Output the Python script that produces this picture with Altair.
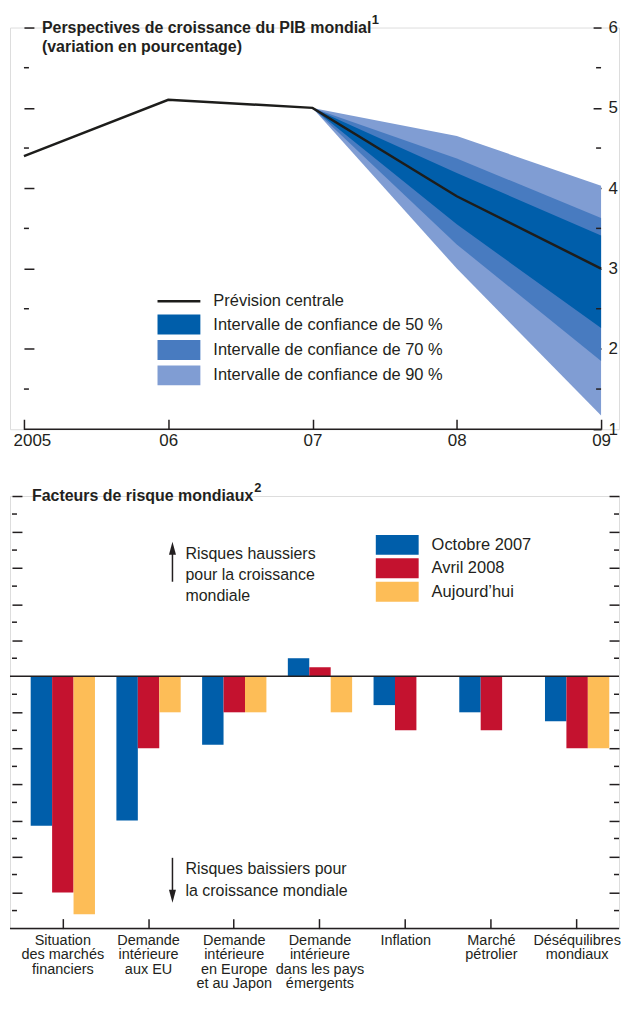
import altair as alt
import pandas as pd

FONT = "'Liberation Sans Narrow', 'Liberation Sans', Arial, sans-serif"
TXT = "#231f20"

# ---------------- Top chart data ----------------
years = [2005, 2006, 2007, 2008, 2009]
year_labels = ["2005", "06", "07", "08", "09"]
central = [4.4, 5.1, 5.0, 3.9, 3.0]

fan_years = [2007, 2008, 2009]
hi90 = [5.0, 4.65, 4.03]
hi70 = [5.0, 4.37, 3.63]
hi50 = [5.0, 4.19, 3.41]
lo50 = [5.0, 3.55, 2.26]
lo70 = [5.0, 3.30, 1.85]
lo90 = [5.0, 3.00, 1.17]

legend_top = ["Prévision centrale",
              "Intervalle de confiance de 50 %",
              "Intervalle de confiance de 70 %",
              "Intervalle de confiance de 90 %"]
colors_top = ["#1d1d1b", "#005eaa", "#487bc0", "#809dd3"]

y_major_top = [1, 2, 3, 4, 5, 6]
y_left_major_top = [2, 3, 4, 5, 6]
y_minor_top = [1.5, 2.5, 3.5, 4.5, 5.5]
title_top_1 = "Perspectives de croissance du PIB mondial"
title_top_2 = "(variation en pourcentage)"
note_top = "1"

# ---------------- Bottom chart data ----------------
categories = ["Situation|des marchés|financiers",
              "Demande|intérieure|aux EU",
              "Demande|intérieure|en Europe|et au Japon",
              "Demande|intérieure|dans les pays|émergents",
              "Inflation",
              "Marché|pétrolier",
              "Déséquilibres|mondiaux"]
series = ["Octobre 2007", "Avril 2008", "Aujourd’hui"]
oct2007 = [-8.3, -8.0, -3.8, 1.0, -1.6, -2.0, -2.5]
avr2008 = [-12.0, -4.0, -2.0, 0.5, -3.0, -3.0, -4.0]
today = [-13.2, -2.0, -2.0, -2.0, 0.0, 0.0, -4.0]
colors_bottom = ["#005eaa", "#c4122f", "#fdbd57"]
y_domain_bottom = [-14, 10]
y_major_bottom = [-12, -10, -8, -6, -4, -2, 2, 4, 6, 8, 10]
y_minor_bottom = [-13, -11, -9, -7, -5, -3, -1, 1, 3, 5, 7, 9]
title_bottom = "Facteurs de risque mondiaux"
note_bottom = "2"
up_text = ["Risques haussiers", "pour la croissance", "mondiale"]
down_text = ["Risques baissiers pour", "la croissance mondiale"]

dummy = pd.DataFrame({"d": [0]})

# ================= TOP CHART =================
W = 611
H_TOP = 403
PX_YR = 144.75
xs = alt.Scale(domain=[2005 - 14 / PX_YR, 2009 + 18 / PX_YR], nice=False, zero=False)
ys = alt.Scale(domain=[1, 6], nice=False, zero=False)
fill_scale = alt.Scale(domain=legend_top, range=colors_top)

label_expr = " : ".join(
    [f"datum.value == {y} ? '{l}'" for y, l in zip(years, year_labels)] + ["''"]
)
x_ax = alt.Axis(values=years, labelExpr=label_expr, offset=-10, tickSize=10,
                domain=False, grid=False, title=None, labelFontSize=17,
                labelFont=FONT, labelColor=TXT, labelPadding=3,
                tickColor=TXT, tickWidth=1.5,
                labelOffset={"condition": {"test": "datum.value == 2005", "value": 8}, "value": 0})
left_ax_top = alt.Axis(orient="left", values=y_left_major_top, offset=-24, tickSize=10,
                       labels=False, domain=False, grid=False, title=None,
                       tickColor=TXT, tickWidth=1.5)
right_ax_top = alt.Axis(orient="right", values=y_major_top, offset=-26, tickSize=8,
                        domain=False, grid=False, title=None, labelFontSize=17,
                        labelFont=FONT, labelColor=TXT, labelPadding=7,
                        tickColor=TXT, tickWidth=1.5)

sym_expr = ("datum.value == '" + legend_top[0] + "' ? 'M-1.72,-0.1h3.44v0.2h-3.44z' : "
            "'M-1.72,-0.8h3.44v1.6h-3.44z'")
leg_top = alt.Legend(title=None, orient="none", legendX=157, legendY=262,
                     symbolType={"expr": sym_expr}, symbolSize=625,
                     symbolStrokeWidth=0, labelFont=FONT, labelFontSize=16.5,
                     labelColor=TXT, labelOffset=22, rowPadding=2.5, padding=0,
                     labelLimit=400)


def band(lo, hi, name, axis):
    df = pd.DataFrame({"year": fan_years, "lo": lo, "hi": hi, "band": name})
    return alt.Chart(df).mark_area(opacity=1).encode(
        x=alt.X("year:Q", scale=xs, axis=x_ax),
        y=alt.Y("lo:Q", scale=ys, axis=axis),
        y2="hi:Q",
        fill=alt.Fill("band:N", scale=fill_scale, legend=leg_top),
    )


a90 = band(lo90, hi90, legend_top[3], left_ax_top)
a70 = band(lo70, hi70, legend_top[2], None)
a50 = band(lo50, hi50, legend_top[1], None)

line = alt.Chart(pd.DataFrame({"year": years, "v": central})).mark_line(
    color=colors_top[0], strokeWidth=2.5).encode(
    x=alt.X("year:Q", scale=xs, axis=x_ax),
    y=alt.Y("v:Q", scale=ys, axis=right_ax_top),
)

baseline_top = alt.Chart(dummy).mark_rule(color=TXT, strokeWidth=1.5).encode(
    x=alt.XDatum(years[0], scale=xs, axis=x_ax),
    x2=alt.X2Datum(years[-1]),
    y=alt.YDatum(y_major_top[0], scale=ys, axis=None),
)

minor_df_top = pd.DataFrame({"v": y_minor_top})
minor_left_top = alt.Chart(minor_df_top).mark_rule(color=TXT, strokeWidth=1.5).encode(
    y=alt.Y("v:Q", scale=ys, axis=None), x=alt.value(14), x2=alt.value(19))
minor_right_top = alt.Chart(minor_df_top).mark_rule(color=TXT, strokeWidth=1.5).encode(
    y=alt.Y("v:Q", scale=ys, axis=None), x=alt.value(588), x2=alt.value(593))

title_t1 = alt.Chart(dummy).mark_text(
    text=title_top_1, align="left", baseline="middle", font=FONT, fontSize=16,
    fontWeight="bold", color=TXT).encode(x=alt.value(32), y=alt.value(0))
title_t2 = alt.Chart(dummy).mark_text(
    text=title_top_2, align="left", baseline="middle", font=FONT, fontSize=16,
    fontWeight="bold", color=TXT).encode(x=alt.value(32), y=alt.value(20))
note_t = alt.Chart(dummy).mark_text(
    text=note_top, align="left", baseline="middle", font=FONT, fontSize=13,
    fontWeight="bold", color=TXT).encode(x=alt.value(363), y=alt.value(-8))

top = alt.layer(a90, a70, a50, line, baseline_top, minor_left_top, minor_right_top,
                title_t1, title_t2, note_t).resolve_axis(y="independent").properties(
    width=W, height=H_TOP)

# ================= BOTTOM CHART =================
H_BOT = 434
ys_b = alt.Scale(domain=y_domain_bottom, nice=False, zero=False)

rows = []
for i, c in enumerate(categories):
    for s, vals in zip(series, [oct2007, avr2008, today]):
        rows.append({"cat": c, "series": s, "value": vals[i]})
bars_df = pd.DataFrame(rows)

x_ax_b = alt.Axis(offset=-10, tickSize=10, domain=False, grid=False, title=None,
                  labelAngle=0, labelExpr="split(datum.label, '|')",
                  labelFont=FONT, labelFontSize=14.5, labelColor=TXT,
                  labelLineHeight=14.5, labelPadding=5, labelBaseline="top",
                  tickColor=TXT, tickWidth=1.5, labelLimit=200)
left_ax_b = alt.Axis(orient="left", values=y_major_bottom, offset=-12, tickSize=10,
                     labels=False, domain=False, grid=False, title=None,
                     tickColor=TXT, tickWidth=1.5)
right_ax_b = alt.Axis(orient="right", values=y_major_bottom, offset=-10, tickSize=10,
                      labels=False, domain=False, grid=False, title=None,
                      tickColor=TXT, tickWidth=1.5)
leg_b = alt.Legend(title=None, orient="none", legendX=376, legendY=506.5,
                   symbolType="M-1.72,-0.8h3.44v1.6h-3.44z", symbolSize=625,
                   symbolStrokeWidth=0, labelFont=FONT, labelFontSize=16.5,
                   labelColor=TXT, labelOffset=22, rowPadding=0.5, padding=0,
                   labelLimit=300)

bars = alt.Chart(bars_df).mark_bar().encode(
    x=alt.X("cat:N", sort=categories, axis=x_ax_b,
            scale=alt.Scale(paddingInner=0.25, paddingOuter=0.1775, align=0.68)),
    xOffset=alt.XOffset("series:N", sort=series),
    y=alt.Y("value:Q", scale=ys_b, axis=left_ax_b),
    color=alt.Color("series:N", sort=series,
                    scale=alt.Scale(domain=series, range=colors_bottom), legend=leg_b),
)

zero_rule = alt.Chart(dummy).mark_rule(color=TXT, strokeWidth=1.5).encode(
    y=alt.YDatum(0, scale=ys_b, axis=right_ax_b))
base_rule = alt.Chart(dummy).mark_rule(color=TXT, strokeWidth=1.5).encode(
    y=alt.YDatum(y_domain_bottom[0], scale=ys_b, axis=None))

minor_df_b = pd.DataFrame({"v": y_minor_bottom})
minor_left_b = alt.Chart(minor_df_b).mark_rule(color=TXT, strokeWidth=1.5).encode(
    y=alt.Y("v:Q", scale=ys_b, axis=None), x=alt.value(2), x2=alt.value(7))
minor_right_b = alt.Chart(minor_df_b).mark_rule(color=TXT, strokeWidth=1.5).encode(
    y=alt.Y("v:Q", scale=ys_b, axis=None), x=alt.value(606), x2=alt.value(611))

title_b = alt.Chart(dummy).mark_text(
    text=title_bottom, align="left", baseline="middle", font=FONT, fontSize=16,
    fontWeight="bold", color=TXT).encode(x=alt.value(22), y=alt.value(0))
note_b = alt.Chart(dummy).mark_text(
    text=note_bottom, align="left", baseline="middle", font=FONT, fontSize=13,
    fontWeight="bold", color=TXT).encode(x=alt.value(245), y=alt.value(-8))

up_t = alt.Chart(dummy).mark_text(
    text=up_text, align="left", baseline="middle", font=FONT, fontSize=16,
    lineHeight=21, color=TXT).encode(x=alt.value(176), y=alt.value(58))
down_t = alt.Chart(dummy).mark_text(
    text=down_text, align="left", baseline="middle", font=FONT, fontSize=16,
    lineHeight=22, color=TXT).encode(x=alt.value(176), y=alt.value(374))

up_shaft = alt.Chart(dummy).mark_rule(color=TXT, strokeWidth=1.5).encode(
    x=alt.value(163), y=alt.value(58), y2=alt.value(86))
up_head = alt.Chart(dummy).mark_point(
    shape="M0,-1L0.54,1L-0.54,1Z", size=169, filled=True, color=TXT, opacity=1).encode(
    x=alt.value(163), y=alt.value(52.5))
down_shaft = alt.Chart(dummy).mark_rule(color=TXT, strokeWidth=1.5).encode(
    x=alt.value(163), y=alt.value(363), y2=alt.value(396))
down_head = alt.Chart(dummy).mark_point(
    shape="M0,1L0.54,-1L-0.54,-1Z", size=169, filled=True, color=TXT, opacity=1).encode(
    x=alt.value(163), y=alt.value(401.5))

bottom = alt.layer(bars, zero_rule, base_rule, minor_left_b, minor_right_b, title_b,
                   note_b, up_t, down_t, up_shaft, up_head, down_shaft, down_head
                   ).resolve_axis(y="independent").properties(width=W, height=H_BOT)

chart = alt.vconcat(top, bottom, spacing=32).properties(
    padding={"left": 0, "top": 3, "right": 0, "bottom": -2}
).configure_view(stroke=None).configure(font=FONT)

chart.save("out.html", embed_options={"renderer": "svg", "actions": False})
